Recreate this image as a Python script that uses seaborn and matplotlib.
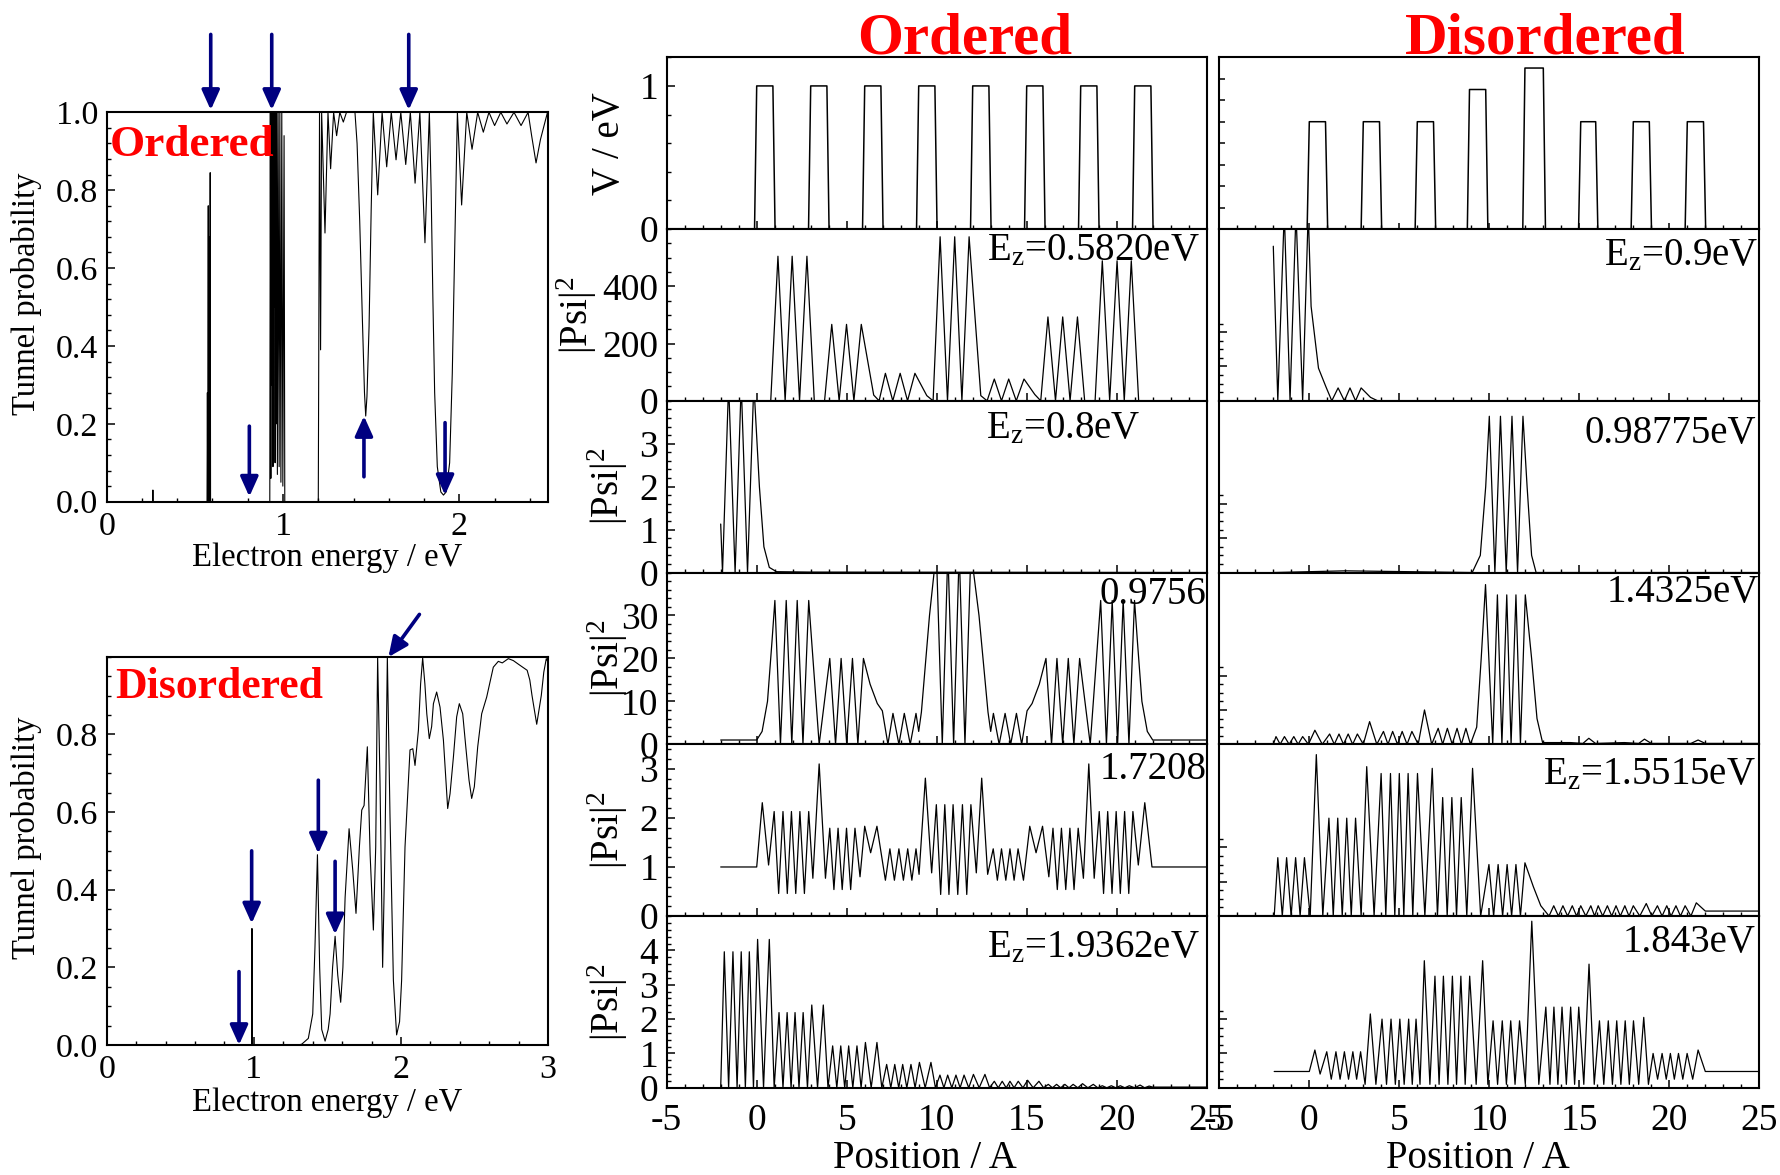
import numpy as np
import seaborn as sns
import matplotlib.pyplot as plt
from matplotlib.ticker import MultipleLocator, FixedLocator, NullFormatter, FormatStrFormatter

# ---------------- data ----------------
# tunnel probability vs electron energy (eV)
ordered_E = [0.0, 0.26, 0.262, 0.264, 0.569, 0.571, 0.573, 0.576, 0.578, 0.581,
             0.583, 0.587, 0.589, 0.925, 0.928, 0.931, 0.934, 0.937, 0.940, 0.943,
             0.946, 0.949, 0.952, 0.955, 0.958, 0.961, 0.964, 0.968, 0.972, 0.978,
             0.982, 0.988, 0.993, 0.999, 1.006, 1.01, 1.2, 1.207, 1.213, 1.219,
             1.238, 1.255, 1.27, 1.287, 1.304, 1.322, 1.342, 1.36, 1.408, 1.42,
             1.435, 1.45, 1.462, 1.469, 1.476, 1.488, 1.5, 1.512, 1.537, 1.562,
             1.588, 1.614, 1.641, 1.668, 1.696, 1.722, 1.749, 1.776, 1.805, 1.83,
             1.84, 1.85, 1.86, 1.875, 1.895, 1.91, 1.925, 1.945, 1.96, 1.975,
             1.989, 2.013, 2.042, 2.072, 2.104, 2.136, 2.168, 2.2, 2.235, 2.27,
             2.31, 2.35, 2.39, 2.41, 2.435, 2.46, 2.5]
ordered_T = [0, 0, 0.03, 0, 0, 0.28, 0, 0.76, 0, 0.68,
             0, 0.845, 0, 0, 1.0, 0.06, 1.0, 0.3, 1.0, 0.09,
             1.0, 0.5, 1.0, 0.1, 1.0, 0.2, 1.0, 0.07, 1.0, 0.09,
             1.0, 0.05, 1.0, 0.04, 0.94, 0, 0, 1.0, 0.39, 1.0,
             0.69, 1.0, 0.855, 1.0, 0.94, 1.0, 0.975, 1.0, 1.0, 0.92,
             0.72, 0.47, 0.28, 0.22, 0.27, 0.45, 0.75, 1.0, 0.788, 1.0,
             0.86, 1.0, 0.878, 1.0, 0.866, 1.0, 0.818, 1.0, 0.665, 1.0,
             0.8, 0.52, 0.28, 0.09, 0.025, 0.017, 0.025, 0.1, 0.33, 0.68,
             1.0, 0.762, 1.0, 0.905, 1.0, 0.949, 1.0, 0.966, 1.0, 0.97,
             1.0, 0.966, 1.0, 0.94, 0.87, 0.93, 1.0]

disordered_E = [0.0, 0.985, 0.987, 0.989, 1.3, 1.325, 1.37, 1.4, 1.415, 1.432,
                1.447, 1.461, 1.484, 1.505, 1.518, 1.535, 1.552, 1.57, 1.59, 1.605,
                1.62, 1.647, 1.672, 1.694, 1.717, 1.733, 1.749, 1.771, 1.79, 1.812,
                1.828, 1.841, 1.857, 1.875, 1.891, 1.907, 1.925, 1.948, 1.97, 1.99,
                2.004, 2.027, 2.061, 2.08, 2.095, 2.118, 2.133, 2.147, 2.162, 2.175,
                2.192, 2.208, 2.22, 2.242, 2.265, 2.288, 2.317, 2.333, 2.356, 2.378,
                2.396, 2.419, 2.44, 2.462, 2.48, 2.498, 2.521, 2.548, 2.582, 2.627,
                2.661, 2.688, 2.729, 2.763, 2.8, 2.857, 2.875, 2.89, 2.922, 2.953,
                2.97, 2.987, 3.0]
disordered_T = [0, 0, 0.30, 0, 0, 0.002, 0.017, 0.08, 0.25, 0.49,
                0.2, 0.04, 0.01, 0.04, 0.08, 0.2, 0.28, 0.18, 0.11, 0.2,
                0.38, 0.557, 0.45, 0.339, 0.51, 0.605, 0.617, 0.768, 0.49, 0.296,
                0.51, 1.0, 0.68, 0.2, 0.51, 1.0, 0.59, 0.167, 0.026, 0.06,
                0.167, 0.51, 0.76, 0.763, 0.72, 0.81, 0.93, 0.997, 0.93, 0.853,
                0.789, 0.82, 0.879, 0.909, 0.87, 0.785, 0.609, 0.647, 0.742, 0.845,
                0.879, 0.853, 0.768, 0.682, 0.635, 0.665, 0.768, 0.853, 0.896, 0.973,
                0.988, 0.984, 0.995, 0.99, 0.98, 0.965, 0.94, 0.9, 0.826, 0.9,
                0.96, 0.995, 0.985]

# arrows on the transmission plots: (tail E, tail T, tip E, tip T)
ordered_arrows = [(0.59, 1.2, 0.59, 1.006), (0.936, 1.2, 0.936, 1.006),
                  (1.713, 1.2, 1.713, 1.006), (0.809, 0.194, 0.809, 0.013),
                  (1.459, 0.064, 1.459, 0.22), (1.919, 0.203, 1.919, 0.017)]
disordered_arrows = [(0.899, 0.189, 0.899, 0.0), (0.985, 0.5, 0.985, 0.313),
                     (1.438, 0.682, 1.438, 0.493), (1.552, 0.473, 1.552, 0.285),
                     (2.125, 1.109, 1.914, 0.999)]

# potential barriers (position in A, height in eV)
ordered_barrier_start = [0, 3, 6, 9, 12, 15, 18, 21]
ordered_barrier_width = [0.9, 0.9, 0.9, 0.9, 0.9, 0.9, 0.9, 0.9]
ordered_barrier_height = [1, 1, 1, 1, 1, 1, 1, 1]
disordered_barrier_start = [0, 3, 6, 8.9, 11.98, 15.08, 18.0, 21.0]
disordered_barrier_width = [0.9, 0.9, 0.9, 0.9, 1.02, 0.83, 0.89, 0.9]
disordered_barrier_height = [1, 1, 1, 1.3, 1.5, 1, 1, 1]

# |Psi|^2 along the structure, ordered chain
o1_x = [-2, 0.78, 1.18, 1.58, 1.97, 2.38, 2.79, 3.2, 3.77, 4.17,
        4.58, 4.99, 5.4, 5.81, 6.5, 6.8, 7.15, 7.56, 7.97, 8.38,
        8.79, 9.45, 9.8, 10.19, 10.6, 11.0, 11.4, 11.8, 12.45, 12.8,
        13.2, 13.6, 14.0, 14.42, 14.85, 15.45, 15.78, 16.18, 16.6, 17.0,
        17.41, 17.82, 18.22, 18.8, 19.2, 19.61, 20.02, 20.42, 20.81, 21.22, 25]
o1_y = [0, 0, 505, 0, 505, 0, 505, 0, 0, 267,
        0, 267, 0, 267, 20, 0, 96, 0, 96, 0,
        96, 18, 0, 573, 0, 573, 0, 573, 18, 0,
        76, 0, 76, 0, 76, 22, 0, 293, 0, 293,
        0, 293, 0, 0, 489, 0, 489, 0, 489, 0, 0]

o2_x = [-2, -1.9, -1.56, -1.2, -0.86, -0.51, -0.16, 0.15, 0.4, 0.7, 1.1, 3.0, 25]
o2_y = [1.13, 0, 4.4, 0, 4.4, 0, 4.4, 2.0, 0.6, 0.12, 0.02, 0.01, 0]

o3_x = [-2, 0.0, 0.3, 0.6, 0.85, 1.01, 1.32, 1.64, 1.95, 2.25,
        2.57, 2.89, 3.47, 4.06, 4.38, 4.69, 5.0, 5.32, 5.62, 5.93,
        6.3, 6.7, 6.98, 7.29, 7.57, 7.9, 8.2, 8.53, 8.85, 9.0,
        9.15, 9.6, 9.98, 10.31, 10.62, 10.94, 11.25, 11.57, 11.9, 12.35,
        12.85, 13.0, 13.15, 13.47, 13.8, 14.11, 14.43, 14.72, 15.02, 15.3,
        15.7, 16.07, 16.38, 16.68, 17.0, 17.31, 17.62, 17.94, 18.53, 19.11,
        19.43, 19.75, 20.05, 20.36, 20.68, 20.99, 21.15, 21.4, 21.7, 22.0, 25]
o3_y = [1.0, 1.0, 3, 10, 24, 33.5, 0, 33.5, 0, 33.5,
        0, 33.5, 0, 20, 0, 20, 0, 20, 0, 20,
        14, 9.5, 7.8, 0, 7.2, 0, 7.2, 0, 7.2, 3,
        7.5, 30, 45, 0, 45, 0, 45, 0, 45, 30,
        7.5, 3, 7.2, 0, 7.2, 0, 7.2, 0, 7.8, 9.5,
        14, 20, 0, 20, 0, 20, 0, 20, 0, 33.5,
        0, 33.5, 0, 33.5, 0, 33.5, 24, 10, 3, 1.0, 1.0]

o4_x = [-2, 0.0, 0.31, 0.66, 0.97, 1.22, 1.46, 1.7, 1.93, 2.17,
        2.4, 2.65, 2.89, 3.12, 3.47, 3.82, 4.06, 4.29, 4.52, 4.75,
        4.99, 5.22, 5.46, 5.74, 6.0, 6.33, 6.68, 7.15, 7.4, 7.65,
        7.9, 8.15, 8.39, 8.62, 8.85, 9.02, 9.37, 9.72, 9.98, 10.22,
        10.45, 10.68, 10.91, 11.17, 11.43, 11.67, 11.9, 12.2, 12.5, 12.83,
        13.14, 13.37, 13.6, 13.84, 14.07, 14.3, 14.52, 14.82, 15.17, 15.52,
        15.88, 16.23, 16.46, 16.7, 16.93, 17.17, 17.4, 17.63, 17.86, 18.15,
        18.45, 18.75, 19.03, 19.27, 19.5, 19.74, 19.97, 20.2, 20.44, 20.67,
        20.9, 21.2, 21.56, 21.96, 25]
o4_y = [1.0, 1.0, 2.31, 1.04, 2.13, 0.46, 2.13, 0.46, 2.13, 0.46,
        2.13, 0.46, 2.13, 0.77, 3.1, 0.77, 1.79, 0.54, 1.79, 0.54,
        1.79, 0.54, 1.79, 0.8, 1.83, 1.29, 1.83, 0.73, 1.37, 0.73,
        1.37, 0.73, 1.37, 0.73, 1.37, 0.85, 2.81, 0.88, 2.27, 0.44,
        2.27, 0.44, 2.27, 0.44, 2.27, 0.44, 2.27, 0.88, 2.81, 0.85,
        1.37, 0.73, 1.37, 0.73, 1.37, 0.73, 1.37, 0.73, 1.83, 1.29,
        1.83, 0.8, 1.79, 0.54, 1.79, 0.54, 1.79, 0.54, 1.79, 0.77,
        3.1, 0.77, 2.13, 0.46, 2.13, 0.46, 2.13, 0.46, 2.13, 0.46,
        2.13, 1.04, 2.31, 1.0, 1.0]

o5_x = [-2, -1.8, -1.56, -1.32, -1.09, -0.86, -0.63, -0.41, -0.18, 0.05,
        0.38, 0.7, 0.97, 1.24, 1.46, 1.69, 1.91, 2.13, 2.35, 2.58,
        2.82, 3.06, 3.38, 3.7, 3.96, 4.22, 4.45, 4.67, 4.89, 5.11,
        5.34, 5.57, 5.8, 6.04, 6.36, 6.68, 6.95, 7.22, 7.45, 7.67,
        7.89, 8.11, 8.34, 8.57, 8.8, 9.04, 9.36, 9.68, 9.93, 10.18,
        10.4, 10.61, 10.84, 11.07, 11.3, 11.52, 11.78, 12.04, 12.36, 12.68,
        12.94, 13.2, 13.42, 13.64, 13.86, 14.07, 14.3, 14.53, 14.79, 15.05,
        15.36, 15.68, 15.94, 16.2, 16.43, 16.66, 16.89, 17.12, 17.35, 17.58,
        17.84, 18.1, 18.4, 18.7, 18.95, 19.2, 19.45, 19.7, 19.95, 20.2,
        20.45, 20.7, 21.0, 21.3, 21.55, 21.8, 22.0, 25]
o5_y = [0, 3.96, 0, 3.96, 0, 3.96, 0, 3.96, 0, 4.32,
        0, 4.32, 0, 2.19, 0, 2.19, 0, 2.19, 0, 2.19,
        0, 2.41, 0, 2.41, 0, 1.22, 0, 1.22, 0, 1.22,
        0, 1.22, 0, 1.32, 0, 1.32, 0, 0.68, 0, 0.68,
        0, 0.68, 0, 0.68, 0, 0.74, 0, 0.74, 0, 0.37,
        0, 0.37, 0, 0.37, 0, 0.37, 0, 0.39, 0, 0.39,
        0, 0.19, 0, 0.19, 0, 0.19, 0, 0.19, 0, 0.22,
        0, 0.19, 0, 0.1, 0, 0.1, 0, 0.1, 0, 0.1,
        0, 0.12, 0, 0.1, 0, 0.06, 0, 0.06, 0, 0.06,
        0, 0.06, 0, 0.08, 0, 0.05, 0.02, 0.02]

# |Psi|^2 along the structure, disordered chain (relative to panel height)
d1_x = [-2, -1.75, -1.39, -1.07, -0.74, -0.37, -0.06, 0.1, 0.51, 0.93,
        1.25, 1.6, 1.95, 2.26, 2.57, 2.88, 3.4, 3.8, 25]
d1_y = [0.9, 0, 1.1, 0, 1.1, 0, 1.1, 0.55, 0.19, 0.08,
        0, 0.075, 0, 0.075, 0, 0.075, 0.02, 0, 0]

d2_x = [-2, 2.0, 9.05, 9.5, 9.8, 10.0, 10.31, 10.62, 10.94, 11.26,
        11.57, 11.87, 12.1, 12.35, 12.6, 25]
d2_y = [0, 0.01, 0, 0.1, 0.5, 0.91, 0, 0.91, 0, 0.91,
        0, 0.91, 0.5, 0.1, 0, 0]

d3_x = [-2, -1.85, -1.62, -1.38, -1.12, -0.86, -0.62, -0.37, -0.05, 0.31,
        0.72, 1.13, 1.39, 1.65, 1.9, 2.16, 2.41, 2.67, 3.0, 3.35,
        3.75, 4.12, 4.37, 4.63, 4.9, 5.16, 5.43, 5.7, 6.05, 6.4,
        6.8, 7.16, 7.41, 7.67, 7.94, 8.21, 8.45, 8.7, 8.95, 9.3,
        9.55, 9.79, 10.19, 10.45, 10.7, 10.97, 11.21, 11.48, 11.73, 12.0,
        12.35, 12.65, 12.96, 14.5, 15.2, 15.53, 15.9, 17.5, 18.3, 18.62,
        19.0, 21.2, 21.6, 22.0, 25]
d3_y = [0, 0.045, 0, 0.045, 0, 0.045, 0, 0.045, 0, 0.082,
        0, 0.06, 0, 0.06, 0, 0.06, 0, 0.06, 0, 0.132,
        0, 0.075, 0, 0.075, 0, 0.075, 0, 0.075, 0, 0.2,
        0, 0.093, 0, 0.093, 0, 0.093, 0, 0.093, 0, 0.1,
        0.5, 0.93, 0, 0.87, 0, 0.87, 0, 0.87, 0, 0.87,
        0.5, 0.15, 0.01, 0.01, 0.005, 0.035, 0.005, 0.01, 0.005, 0.03,
        0.005, 0.005, 0.025, 0.005, 0.005]

d4_x = [-1.95, -1.75, -1.5, -1.26, -1.01, -0.76, -0.51, -0.27, 0.05, 0.39,
        0.75, 1.09, 1.33, 1.58, 1.83, 2.08, 2.33, 2.57, 2.88, 3.19,
        3.6, 3.99, 4.25, 4.51, 4.75, 5.0, 5.25, 5.49, 5.75, 6.01,
        6.42, 6.83, 7.12, 7.41, 7.66, 7.92, 8.18, 8.44, 8.75, 9.07,
        9.52, 9.98, 10.24, 10.49, 10.74, 10.99, 11.24, 11.48, 11.73, 11.98,
        12.45, 12.86, 13.32, 13.58, 13.84, 14.09, 14.35, 14.61, 14.85, 15.08,
        15.36, 15.64, 15.85, 16.05, 16.3, 16.56, 16.8, 17.04, 17.28, 17.53,
        17.76, 18.0, 18.36, 18.72, 19.03, 19.34, 19.6, 19.86, 20.1, 20.37,
        20.62, 20.88, 21.2, 21.5, 22.0, 25]
d4_y = [0, 0.34, 0, 0.34, 0, 0.34, 0, 0.34, 0, 0.94,
        0, 0.57, 0, 0.57, 0, 0.57, 0, 0.57, 0, 0.87,
        0, 0.83, 0, 0.83, 0, 0.83, 0, 0.83, 0, 0.83,
        0, 0.86, 0, 0.69, 0, 0.69, 0, 0.69, 0, 0.86,
        0, 0.3, 0, 0.3, 0, 0.3, 0, 0.3, 0, 0.31,
        0.17, 0.06, 0, 0.06, 0, 0.06, 0, 0.06, 0, 0.06,
        0, 0.06, 0, 0.06, 0, 0.06, 0, 0.06, 0, 0.06,
        0, 0.06, 0, 0.073, 0, 0.06, 0, 0.06, 0, 0.06,
        0, 0.06, 0, 0.077, 0.029, 0.029]

d5_x = [-1.95, 0.0, 0.31, 0.6, 0.97, 1.22, 1.48, 1.71, 1.95, 2.18,
        2.42, 2.63, 2.85, 3.1, 3.39, 3.7, 4.04, 4.29, 4.54, 4.78,
        5.03, 5.27, 5.52, 5.72, 5.93, 6.15, 6.39, 6.7, 6.98, 7.21,
        7.45, 7.7, 7.95, 8.18, 8.42, 8.66, 8.91, 9.27, 9.63, 9.92,
        10.21, 10.46, 10.72, 10.95, 11.19, 11.43, 11.68, 12.0, 12.36, 12.75,
        13.14, 13.37, 13.59, 13.81, 14.04, 14.28, 14.52, 14.74, 14.97, 15.25,
        15.54, 15.83, 16.12, 16.36, 16.61, 16.84, 17.08, 17.31, 17.55, 17.78,
        18.01, 18.3, 18.58, 18.84, 19.1, 19.35, 19.6, 19.83, 20.06, 20.28,
        20.51, 20.75, 20.99, 21.3, 21.6, 22.0, 25]
d5_y = [0.095, 0.095, 0.22, 0.08, 0.21, 0.05, 0.21, 0.05, 0.21, 0.05,
        0.21, 0.05, 0.21, 0.02, 0.43, 0.02, 0.4, 0.02, 0.4, 0.02,
        0.4, 0.02, 0.4, 0.02, 0.4, 0.02, 0.74, 0.02, 0.65, 0.02,
        0.65, 0.02, 0.65, 0.02, 0.65, 0.02, 0.65, 0.02, 0.74, 0.02,
        0.39, 0.02, 0.39, 0.02, 0.39, 0.02, 0.39, 0.02, 0.97, 0.02,
        0.47, 0.02, 0.47, 0.02, 0.47, 0.02, 0.47, 0.02, 0.47, 0.02,
        0.72, 0.02, 0.39, 0.02, 0.39, 0.02, 0.39, 0.02, 0.39, 0.02,
        0.39, 0.02, 0.41, 0.02, 0.2, 0.05, 0.2, 0.05, 0.2, 0.05,
        0.2, 0.05, 0.2, 0.05, 0.22, 0.095, 0.095]

ordered_labels = ['E$_\\mathrm{z}$=0.5820eV', 'E$_\\mathrm{z}$=0.8eV', '0.9756eV',
                  '1.7208eV', 'E$_\\mathrm{z}$=1.9362eV']
disordered_labels = ['E$_\\mathrm{z}$=0.9eV', '0.98775eV', '1.4325eV',
                     'E$_\\mathrm{z}$=1.5515eV', '1.843eV']

# ---------------- style ----------------
sns.set_theme(style='white')
plt.rcParams['font.family'] = ['Liberation Serif', 'DejaVu Serif']
plt.rcParams.update({
    'mathtext.fontset': 'custom',
    'mathtext.rm': 'Liberation Serif',
    'mathtext.it': 'Liberation Serif:italic',
    'axes.unicode_minus': False,
    'axes.edgecolor': 'black',
    'axes.linewidth': 1.5,
    'text.color': 'black',
    'axes.labelcolor': 'black',
    'xtick.color': 'black',
    'ytick.color': 'black',
})

W, H = 1781, 1175
fig = plt.figure(figsize=(W / 100, H / 100), dpi=100)


def box(l, t, r, b):
    return [l / W, 1 - b / H, (r - l) / W, (b - t) / H]


def curve(ax, x, y, lw=0.8):
    sns.lineplot(x=x, y=y, ax=ax, color='black', linewidth=lw,
                 estimator=None, sort=False, legend=False)


def ticks(ax, size):
    ax.tick_params(which='both', direction='in', bottom=True, left=True,
                   top=False, right=False, labelsize=size)
    ax.tick_params(which='major', length=6, width=1.1)
    ax.tick_params(which='minor', length=3, width=1.0)


def arrow(ax, a):
    ax.annotate('', xy=(a[2], a[3]), xytext=(a[0], a[1]),
                arrowprops=dict(arrowstyle='-|>,head_length=0.6,head_width=0.27',
                                mutation_scale=20, color='#000080', lw=2.6,
                                shrinkA=0, shrinkB=0),
                annotation_clip=False)


# ---------------- left: tunnel probability ----------------
ax_o = fig.add_axes(box(106.7, 112.3, 547.5, 501.7))
ax_d = fig.add_axes(box(106.7, 656.7, 548.2, 1045))
curve(ax_o, ordered_E, ordered_T, 0.8)
curve(ax_d, disordered_E, disordered_T, 0.8)
ax_o.set_xlim(0, 2.5)
ax_d.set_xlim(0, 3)
for ax in (ax_o, ax_d):
    ax.set_ylim(0, 1.0)
    ticks(ax, 24.5)
    ax.tick_params(axis='y', pad=6)
    ax.tick_params(axis='x', pad=7)
    ax.xaxis.set_major_locator(MultipleLocator(1))
    ax.xaxis.set_minor_locator(MultipleLocator(0.2))
    ax.set_xlabel('Electron energy / eV', fontsize=23.5)
    ax.xaxis.label.set_va('baseline')
    ax.set_ylabel('Tunnel probability', fontsize=23.5)
    ax.yaxis.label.set_va('baseline')
    ax.yaxis.set_label_coords(-0.162, 0.535)
ax_o.xaxis.set_label_coords(0.5, -0.165)
ax_d.xaxis.set_label_coords(0.5, -0.171)
ax_o.yaxis.set_major_locator(FixedLocator([0, 0.2, 0.4, 0.6, 0.8, 1.0]))
ax_o.yaxis.set_minor_locator(MultipleLocator(0.04))
ax_d.yaxis.set_major_locator(FixedLocator([0, 0.2, 0.4, 0.6, 0.8]))
ax_d.yaxis.set_minor_locator(MultipleLocator(0.05))
for ax in (ax_o, ax_d):
    ax.yaxis.set_major_formatter(FormatStrFormatter('%.1f'))
ax_o.text(0.008, 0.888, 'Ordered', transform=ax_o.transAxes, color='red',
          fontweight='bold', fontsize=32.5, va='baseline', ha='left')
ax_d.text(0.019, 0.893, 'Disordered', transform=ax_d.transAxes, color='red',
          fontweight='bold', fontsize=31.5, va='baseline', ha='left')
for a in ordered_arrows:
    arrow(ax_o, a)
for a in disordered_arrows:
    arrow(ax_d, a)

# ---------------- middle / right: potential and |Psi|^2 ----------------
row_h = 171.75
top0 = 57.3
mid = [fig.add_axes(box(666.7, top0 + row_h * k, 1206.7, top0 + row_h * (k + 1)))
       for k in range(6)]
rgt = [fig.add_axes(box(1219.3, top0 + row_h * k, 1759.3, top0 + row_h * (k + 1)))
       for k in range(6)]


def barriers(starts, widths, heights, ramp=0.12):
    xs, ys = [-2], [0]
    for s, w, h in zip(starts, widths, heights):
        xs += [s - ramp, s, s + w, s + w + ramp]
        ys += [0, h, h, 0]
    return xs + [25], ys + [0]


vx, vy = barriers(ordered_barrier_start, ordered_barrier_width, ordered_barrier_height)
curve(mid[0], vx, vy, 1.1)
vx, vy = barriers(disordered_barrier_start, disordered_barrier_width, disordered_barrier_height)
curve(rgt[0], vx, vy, 1.1)

ordered_curves = [(o1_x, o1_y), (o2_x, o2_y), (o3_x, o3_y), (o4_x, o4_y), (o5_x, o5_y)]
disordered_curves = [(d1_x, d1_y), (d2_x, d2_y), (d3_x, d3_y), (d4_x, d4_y), (d5_x, d5_y)]
for k in range(5):
    curve(mid[k + 1], *ordered_curves[k], 0.9)
    curve(rgt[k + 1], *disordered_curves[k], 0.9)

mid_ylim = [1.2, 600, 4, 40, 3.5, 5]
mid_major = [[0, 1], [0, 200, 400], [0, 1, 2, 3], [0, 10, 20, 30], [0, 1, 2, 3], [0, 1, 2, 3, 4]]
mid_minor = [0.2, 50, 0.2, 2, 0.2, 0.2]
for k, ax in enumerate(mid):
    ax.set_xlim(-5, 25)
    ax.set_ylim(0, mid_ylim[k])
    ticks(ax, 27)
    ax.tick_params(axis='y', pad=6)
    ax.tick_params(axis='x', pad=11)
    ax.xaxis.set_major_locator(MultipleLocator(5))
    ax.xaxis.set_minor_locator(MultipleLocator(1))
    ax.yaxis.set_major_locator(FixedLocator(mid_major[k]))
    ax.yaxis.set_minor_locator(MultipleLocator(mid_minor[k]))
    ax.set_ylabel('V / eV' if k == 0 else r'$\mathrm{|Psi|}^{2}$', fontsize=28)
    ax.yaxis.label.set_va('baseline')
    ax.yaxis.set_label_coords(-0.146 if k == 1 else -0.089, 0.5)
    if k < 5:
        ax.xaxis.set_major_formatter(NullFormatter())

for k, ax in enumerate(rgt):
    ax.set_xlim(-5, 25)
    ax.set_ylim(0, 1.6 if k == 0 else 1.0)
    ticks(ax, 27)
    ax.tick_params(axis='x', pad=11)
    ax.xaxis.set_major_locator(MultipleLocator(5))
    ax.xaxis.set_minor_locator(MultipleLocator(1))
    if k == 0:
        ax.yaxis.set_major_locator(MultipleLocator(0.2))
        ax.yaxis.set_minor_locator(MultipleLocator(0.2))
        ax.tick_params(which='major', length=4)
    else:
        ax.yaxis.set_major_locator(FixedLocator([0.2, 0.4]))
        ax.yaxis.set_minor_locator(FixedLocator(list(np.arange(0.05, 0.46, 0.05))))
    ax.yaxis.set_major_formatter(NullFormatter())
    if k < 5:
        ax.xaxis.set_major_formatter(NullFormatter())

# energy labels inside panels
ord_pos = [(0.988, 0.82, 'right', False), (0.878, 0.78, 'right', False),
           (0.801, 0.815, 'left', True), (0.801, 0.796, 'left', True),
           (0.988, 0.758, 'right', False)]
dis_pos = [(0.998, 0.79, 'right'), (0.993, 0.755, 'right'), (1.0, 0.83, 'right'),
           (0.993, 0.77, 'right'), (0.993, 0.79, 'right')]
for k in range(5):
    x, y, ha, clip = ord_pos[k]
    mid[k + 1].text(x, y, ordered_labels[k], transform=mid[k + 1].transAxes,
                    ha=ha, va='baseline', fontsize=28, clip_on=clip)
    x, y, ha = dis_pos[k]
    rgt[k + 1].text(x, y, disordered_labels[k], transform=rgt[k + 1].transAxes,
                    ha=ha, va='baseline', fontsize=28)

fig.text(964.5 / W, 1 - 53.3 / H, 'Ordered', ha='center', va='baseline',
         fontsize=42.5, fontweight='bold', color='red')
fig.text(1545 / W, 1 - 53.3 / H, 'Disordered', ha='center', va='baseline',
         fontsize=42.5, fontweight='bold', color='red')
fig.text(925 / W, 1 - 1168 / H, 'Position / A', ha='center', va='baseline', fontsize=28)
fig.text(1478 / W, 1 - 1168 / H, 'Position / A', ha='center', va='baseline', fontsize=28)

fig.savefig('out.png', dpi=100)
